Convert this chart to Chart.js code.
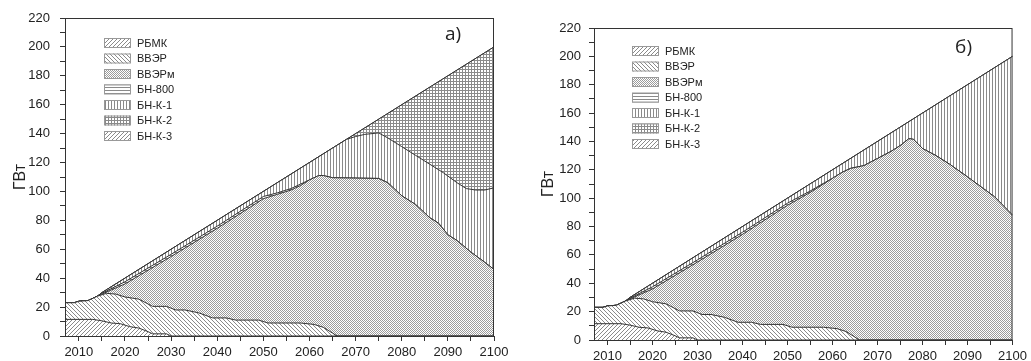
<!DOCTYPE html>
<html>
<head>
    <title>Мощность АЭС</title>
    <script src="https://cdn.jsdelivr.net/npm/chart.js@4"></script>
    <style>
        body { margin: 0; background: #fff; }
        #chart-a { position: absolute; left: 0; top: 0; }
        #chart-b { position: absolute; left: 518px; top: 0; }
    </style>
</head>
<body>
    <canvas id="chart-a" width="518" height="361"></canvas>
    <canvas id="chart-b" width="513" height="361"></canvas>

    <script>
        // series names (bottom to top of the stack)
        const names = ['РБМК', 'ВВЭР', 'ВВЭРм', 'БН-800', 'БН-К-1', 'БН-К-2', 'БН-К-3'];

        // upper edges of the stacked areas, [year, GW]
        const rbmkTop = [[2007, 11.5], [2013, 11.5], [2015, 10.5], [2017, 9], [2019, 8.5], [2021, 6.5], [2023, 5.5],
            [2025, 3], [2026, 1.5], [2029, 1.5], [2030, 0], [2100, 0]];
        const vverTop = [[2007, 23], [2009, 23], [2010, 24], [2012, 24.5], [2014, 27.5], [2016, 29.5], [2018, 29],
            [2020, 27], [2023, 25.5], [2026, 20.5], [2029, 20.5], [2031, 18], [2033, 18], [2036, 16], [2039, 12.5],
            [2042, 12.5], [2044, 11], [2049, 11], [2051, 9], [2058, 9], [2061, 8], [2063, 6], [2065, 2], [2066, 0], [2100, 0]];

        // panel a)
        const vvermTopA = [[2007, 23], [2009, 23], [2010, 24], [2012, 24.5], [2014, 27.5], [2015, 29], [2020, 36],
            [2030, 55], [2040, 74.5], [2050, 95], [2053, 98], [2056, 101], [2058, 104], [2060, 108], [2062, 111],
            [2063, 111], [2065, 109.5], [2075, 109], [2077, 106], [2080, 97], [2083, 91], [2086, 82], [2088, 78],
            [2090, 70], [2092, 66], [2095, 58], [2098, 51], [2100, 46]];
        const bn800TopA = [[2007, 23], [2009, 23], [2010, 24], [2012, 24.5], [2014, 27.5], [2015, 29.5], [2020, 37.5],
            [2030, 56.5], [2040, 76], [2050, 96.5], [2053, 99], [2056, 102], [2058, 105], [2060, 108], [2062, 111],
            [2063, 111], [2065, 109.5], [2075, 109], [2077, 106], [2080, 97], [2083, 91], [2086, 82], [2088, 78],
            [2090, 70], [2092, 66], [2095, 58], [2098, 51], [2100, 46]];
        const bnk1TopA = [[2007, 23], [2009, 23], [2010, 24], [2012, 24.5], [2014, 27.5], [2015, 30], [2068, 136],
            [2070, 138], [2072, 139.5], [2075, 140.5], [2077, 137], [2080, 131], [2083, 125], [2086, 119],
            [2089, 113], [2092, 106], [2094, 102], [2096, 101], [2098, 101], [2100, 102.5]];
        const totalA = [[2007, 23], [2009, 23], [2010, 24], [2012, 24.5], [2014, 27.5], [2015, 30], [2100, 200]];

        // panel б)
        const vvermTopB = [[2007, 23], [2009, 23], [2010, 24], [2012, 24.5], [2014, 27.5], [2015, 29], [2020, 36],
            [2030, 55], [2040, 74.5], [2050, 95], [2055, 104], [2058, 110], [2060, 114], [2062, 118], [2064, 121],
            [2067, 123], [2070, 128], [2073, 133], [2075, 137], [2077, 142], [2078, 141.5], [2080, 135], [2083, 130],
            [2086, 124], [2090, 115], [2093, 108], [2096, 101], [2100, 88]];
        const bn800TopB = [[2007, 23], [2009, 23], [2010, 24], [2012, 24.5], [2014, 27.5], [2015, 29.5], [2020, 37.5],
            [2030, 56.5], [2040, 76], [2050, 96.5], [2055, 105], [2058, 110.5], [2060, 114], [2062, 118], [2064, 121],
            [2067, 123], [2070, 128], [2073, 133], [2075, 137], [2077, 142], [2078, 141.5], [2080, 135], [2083, 130],
            [2086, 124], [2090, 115], [2093, 108], [2096, 101], [2100, 88]];
        const totalB = [[2007, 23], [2009, 23], [2010, 24], [2012, 24.5], [2014, 27.5], [2015, 30], [2100, 200]];

        const yTicks = [0, 20, 40, 60, 80, 100, 120, 140, 160, 180, 200, 220];
        const xTicks = [2010, 2020, 2030, 2040, 2050, 2060, 2070, 2080, 2090, 2100];

        const FONT = "'Liberation Sans', Arial, sans-serif";
        const INK = '#8a8a8a';

        // small tiles for hatch fills
        function hatch(kind) {
            const c = document.createElement('canvas');
            const n = kind === 'check' ? 2 : (kind === 'diag' || kind === 'back') ? 4 : 3;
            c.width = n; c.height = n;
            const g = c.getContext('2d');
            g.fillStyle = '#fff';
            g.fillRect(0, 0, n, n);
            g.fillStyle = INK;
            for (let i = 0; i < n; i++) {
                if (kind === 'diag') g.fillRect(i, n - 1 - i, 1, 1);
                if (kind === 'back') g.fillRect(i, i, 1, 1);
                if (kind === 'horiz') g.fillRect(i, 0, 1, 1);
                if (kind === 'vert') g.fillRect(0, i, 1, 1);
                if (kind === 'grid') { g.fillRect(i, 0, 1, 1); g.fillRect(0, i, 1, 1); }
            }
            if (kind === 'check') { g.fillStyle = '#9c9c9c'; g.fillRect(0, 0, 1, 1); g.fillRect(1, 1, 1, 1); }
            return g.createPattern(c, 'repeat');
        }

        const fills = ['diag', 'back', 'check', 'horiz', 'vert', 'grid', 'diag'].map(hatch);

        function toPoints(arr) {
            return arr.map(p => ({ x: p[0], y: p[1] }));
        }

        // legend, frame and panel letter drawn inside the plot
        const decor = {
            id: 'decor',
            afterDraw(chart, args, opts) {
                const { ctx, chartArea } = chart;
                ctx.save();
                ctx.strokeStyle = '#333';
                ctx.lineWidth = 1;
                ctx.strokeRect(chartArea.left + 0.5, chartArea.top + 0.5,
                    chartArea.right - chartArea.left - 1, chartArea.bottom - chartArea.top);
                const lx = chartArea.left + opts.legendX;
                const ly = chartArea.top + opts.legendY;
                ctx.font = '11px ' + FONT;
                ctx.textBaseline = 'middle';
                names.forEach((name, i) => {
                    const y = ly + i * 15.5;
                    ctx.fillStyle = fills[i];
                    ctx.fillRect(lx, y - 5, 27, 10);
                    ctx.strokeStyle = '#999';
                    ctx.strokeRect(lx + 0.5, y - 4.5, 26, 9);
                    ctx.fillStyle = '#222';
                    ctx.fillText(name, lx + 33, y + 0.5);
                });
                ctx.font = "19px 'Open Sans', sans-serif";
                ctx.textAlign = 'center';
                ctx.fillStyle = '#222';
                ctx.fillText(opts.letter, chartArea.right - opts.letterX, chartArea.top + opts.letterY);
                ctx.restore();
            }
        };

        function makeChart(id, tops, area, decorOpts) {
            const datasets = tops.map((arr, i) => ({
                label: names[i],
                data: toPoints(arr),
                backgroundColor: fills[i],
                borderColor: '#333',
                borderWidth: 1,
                pointRadius: 0,
                tension: 0,
                fill: i === 0 ? 'origin' : '-1'
            }));
            const canvas = document.getElementById(id);
            new Chart(canvas.getContext('2d'), {
                type: 'line',
                data: { datasets: datasets },
                plugins: [decor],
                options: {
                    responsive: false,
                    animation: false,
                    layout: { padding: { top: area.top, right: canvas.width - area.right, left: 0, bottom: 0 } },
                    plugins: {
                        legend: { display: false },
                        tooltip: { enabled: false },
                        decor: decorOpts
                    },
                    scales: {
                        x: {
                            type: 'linear',
                            min: 2007,
                            max: 2100,
                            afterFit: s => { s.height = canvas.height - area.bottom; },
                            afterBuildTicks: s => {
                                s.ticks = xTicks.flatMap(v => [v - 5, v]).filter(v => v >= 2007).map(v => ({ value: v }));
                            },
                            ticks: {
                                autoSkip: false,
                                maxRotation: 0,
                                padding: 4,
                                color: '#222',
                                font: { family: FONT, size: 13 },
                                callback: v => xTicks.includes(v) ? String(v) : ''
                            },
                            grid: { drawOnChartArea: false, tickLength: 5, color: '#333' },
                            border: { color: '#333' }
                        },
                        y: {
                            min: 0,
                            max: 220,
                            afterFit: s => { s.width = area.left; },
                            ticks: {
                                stepSize: 10,
                                autoSkip: false,
                                padding: area.tickPad,
                                color: '#222',
                                font: { family: FONT, size: 13 },
                                callback: v => yTicks.includes(v) ? String(v) : ''
                            },
                            grid: { drawOnChartArea: false, tickLength: 5, color: '#333' },
                            border: { color: '#333' },
                            title: {
                                display: true, text: 'ГВт', color: '#222',
                                font: { family: FONT, size: 16 }, padding: { top: area.titlePad, bottom: 0 }
                            }
                        }
                    }
                }
            });
        }

        makeChart('chart-a', [rbmkTop, vverTop, vvermTopA, bn800TopA, bnk1TopA, totalA, totalA],
            { left: 65, right: 494, top: 18, bottom: 336, tickPad: 10, titlePad: 11 },
            { legendX: 39, legendY: 25, letter: 'а)', letterX: 41, letterY: 17 });
        makeChart('chart-b', [rbmkTop, vverTop, vvermTopB, bn800TopB, totalB, totalB, totalB],
            { left: 76, right: 499, top: 28, bottom: 340, tickPad: 8, titlePad: 21 },
            { legendX: 38, legendY: 23, letter: 'б)', letterX: 49, letterY: 20 });
    </script>
</body>
</html>
